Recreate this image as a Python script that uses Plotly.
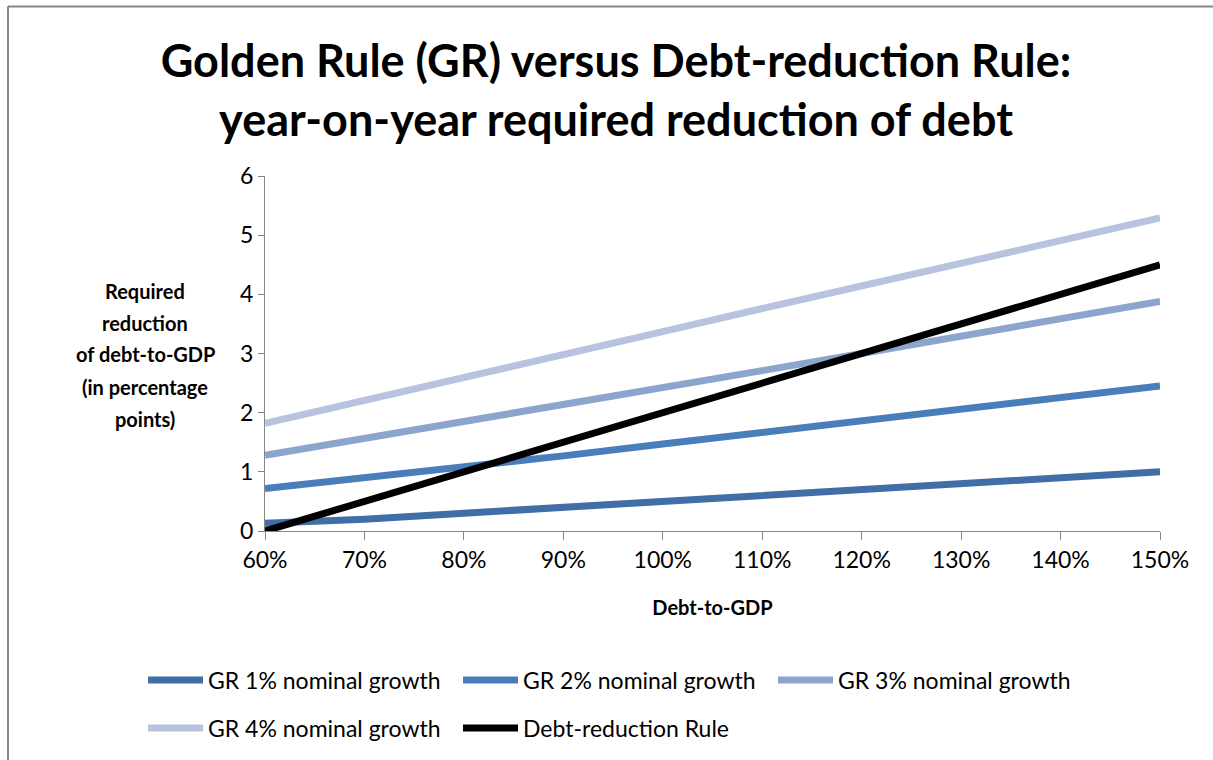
import plotly.graph_objects as go

categories = ["60%", "70%", "80%", "90%", "100%", "110%", "120%", "130%", "140%", "150%"]
gr1 = [0.13, 0.2, 0.3, 0.4, 0.49, 0.59, 0.69, 0.79, 0.9, 1.0]
gr2 = [0.72, 0.9, 1.08, 1.27, 1.47, 1.67, 1.87, 2.07, 2.26, 2.45]
gr3 = [1.28, 1.56, 1.84, 2.13, 2.42, 2.71, 3.0, 3.29, 3.58, 3.88]
gr4 = [1.82, 2.2, 2.6, 2.98, 3.37, 3.76, 4.15, 4.53, 4.92, 5.29]
debt_rule = [0.0, 0.5, 1.0, 1.5, 2.0, 2.5, 3.0, 3.5, 4.0, 4.5]

series_names = ["GR 1% nominal growth", "GR 2% nominal growth", "GR 3% nominal growth",
                "GR 4% nominal growth", "Debt-reduction Rule"]
y_tick_vals = [0, 1, 2, 3, 4, 5, 6]
y_title_lines = ["Required", "reduction", "of debt-to-GDP", "(in percentage", "points)"]

colors = ["#416EA6", "#4A7EBB", "#8CA5CD", "#B8C4DF", "#000000"]
legends = ["legend", "legend", "legend", "legend2", "legend2"]
FONT = "Lato"

fig = go.Figure()
for name, vals, col, lg in zip(series_names, [gr1, gr2, gr3, gr4, debt_rule], colors, legends):
    fig.add_trace(go.Scatter(x=categories, y=vals, mode="lines", name=name,
                             line=dict(color=col, width=7), legend=lg))

# plot area: x 265..1160, y 176..532
W, H = 1213, 760
L, R, T, B = 265, 53, 176, 228
pw, ph = W - L - R, H - T - B

def px_x(x):
    return (x - L) / pw

def px_y(y):
    return (H - B - y) / ph

fig.update_layout(
    width=W, height=H,
    margin=dict(l=L, r=R, t=T, b=B),
    paper_bgcolor="white", plot_bgcolor="white",
    font=dict(family=FONT, color="black", size=20),
    title=dict(text="Golden Rule (GR) versus Debt-reduction Rule:<br>year-on-year required reduction of debt",
               font=dict(family=FONT, size=45, color="black", weight="bold"),
               x=(616) / W, xanchor="center", y=1 - 77 / H, yanchor="middle"),
    xaxis=dict(type="category", range=[0, 9], showgrid=False, showline=True,
               linecolor="#868686", linewidth=1, ticks="outside", ticklen=8,
               tickcolor="#868686", tickfont=dict(size=23),
               title=dict(text="Debt-to-GDP", font=dict(size=20, weight="bold"), standoff=29)),
    yaxis=dict(range=[0, 6], tickvals=y_tick_vals, showgrid=False, showline=True,
               linecolor="#868686", linewidth=1, ticks="outside", ticklen=6,
               tickcolor="#868686", tickfont=dict(size=23), zeroline=False),
    legend=dict(orientation="h", x=px_x(143), xanchor="left", y=px_y(680), yanchor="middle",
                entrywidth=245, font=dict(size=23), bgcolor="rgba(0,0,0,0)", itemwidth=55),
    legend2=dict(orientation="h", x=px_x(143), xanchor="left", y=px_y(728), yanchor="middle",
                 entrywidth=245, font=dict(size=23), bgcolor="rgba(0,0,0,0)", itemwidth=55),
    showlegend=True,
)

y_centers = [291, 323, 355, 388, 420]
for txt, yc in zip(y_title_lines, y_centers):
    fig.add_annotation(text=txt, xref="paper", yref="paper", x=px_x(145), y=px_y(yc),
                       xanchor="center", yanchor="middle", showarrow=False,
                       font=dict(size=20, weight="bold", family=FONT))

# outer chart border (left and top edges visible)
fig.add_shape(type="line", xref="paper", yref="paper",
              x0=px_x(8), x1=px_x(8), y0=px_y(800), y1=px_y(6),
              line=dict(color="#868686", width=2), layer="below")
fig.add_shape(type="line", xref="paper", yref="paper",
              x0=px_x(8), x1=px_x(1300), y0=px_y(6), y1=px_y(6),
              line=dict(color="#868686", width=2), layer="below")

fig.write_html("out.html")
